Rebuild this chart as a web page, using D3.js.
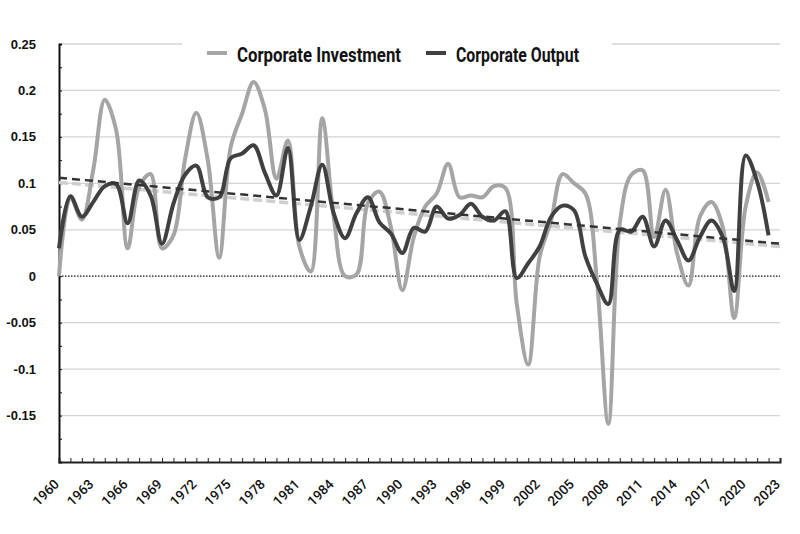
<!DOCTYPE html>
<html>
<head>
<meta charset="utf-8">
<script src="https://cdn.jsdelivr.net/npm/d3@7"></script>
<style>
  html, body { margin: 0; padding: 0; background: #fff; }
  svg { display: block; }
</style>
</head>
<body>
<svg id="chart" width="800" height="534"></svg>
<script>
const years = d3.range(1960, 2023);
const investment = [0.000, 0.085, 0.061, 0.115, 0.190, 0.157, 0.030, 0.096, 0.110, 0.030,
  0.044, 0.125, 0.176, 0.125, 0.020, 0.139, 0.175, 0.209, 0.179, 0.105,
  0.146, 0.032, 0.005, 0.170, 0.064, 0.000, 0.002, 0.079, 0.091, 0.053,
  -0.015, 0.042, 0.075, 0.089, 0.121, 0.085, 0.087, 0.085, 0.097, 0.095,
  -0.030, -0.095, 0.021, 0.060, 0.110, 0.100, 0.089, -0.004, -0.159, 0.057,
  0.109, 0.114, 0.042, 0.093, 0.025, -0.010, 0.064, 0.080, 0.053, -0.045,
  0.075, 0.112, 0.080];
const output = [0.030, 0.086, 0.064, 0.080, 0.097, 0.099, 0.057, 0.103, 0.087, 0.035,
  0.078, 0.109, 0.119, 0.085, 0.085, 0.127, 0.132, 0.141, 0.111, 0.087,
  0.138, 0.039, 0.075, 0.120, 0.068, 0.041, 0.068, 0.085, 0.058, 0.046,
  0.025, 0.052, 0.048, 0.075, 0.062, 0.066, 0.078, 0.064, 0.060, 0.070,
  -0.002, 0.014, 0.032, 0.064, 0.076, 0.071, 0.021, -0.008, -0.030, 0.050,
  0.048, 0.064, 0.032, 0.060, 0.039, 0.017, 0.042, 0.060, 0.042, -0.016,
  0.130, 0.102, 0.044];
const trendYears = [1960, 2023];
const investmentTrend = [0.101, 0.032];
const outputTrend = [0.106, 0.035];
const yTicks = [0.25, 0.2, 0.15, 0.1, 0.05, 0, -0.05, -0.1, -0.15];
const yTickLabels = ["0.25", "0.2", "0.15", "0.1", "0.05", "0", "-0.05", "-0.1", "-0.15"];
const xLabelYears = d3.range(1960, 2024, 3);
const seriesNames = ["Corporate Investment", "Corporate Output"];
const colors = ["#a5a5a5", "#404040"];

const svg = d3.select("#chart");
const x = d3.scaleLinear().domain([1960, 2023]).range([59, 780]);
const y = d3.scaleLinear().domain([-0.2, 0.25]).range([462, 44]);

// gridlines
svg.append("g").selectAll("line")
  .data(yTicks.filter(d => d !== 0))
  .join("line")
  .attr("x1", x(1960)).attr("x2", x(2023))
  .attr("y1", d => y(d)).attr("y2", d => y(d))
  .attr("stroke", "#d4d4d4").attr("stroke-width", 1.3);

// zero dotted line
svg.append("line")
  .attr("x1", x(1960)).attr("x2", x(2023))
  .attr("y1", y(0)).attr("y2", y(0))
  .attr("stroke", "#111").attr("stroke-width", 1.2)
  .attr("stroke-dasharray", "1.5,1.5");

// y axis
const yAxis = d3.axisRight(y)
  .tickValues(d3.range(-0.2, 0.2501, 0.025))
  .tickSize(3).tickFormat("");
const ya = svg.append("g").attr("transform", `translate(${x(1960)},0)`).call(yAxis);
ya.select(".domain").attr("stroke", "#111").attr("stroke-width", 2);
ya.selectAll(".tick line").attr("stroke", "#111").attr("stroke-width", 1);

svg.append("g").selectAll("text")
  .data(yTicks)
  .join("text")
  .attr("x", 36).attr("y", d => y(d))
  .attr("dy", "0.35em")
  .attr("text-anchor", "end")
  .attr("font-family", "'Liberation Sans', Arial, sans-serif")
  .attr("font-weight", "bold")
  .attr("font-size", 13)
  .attr("fill", "#111")
  .text((d, i) => yTickLabels[i]);

// x axis
const xAxis = d3.axisTop(x).tickValues(d3.range(1960, 2024, 1)).tickSize(4).tickFormat("");
const xa = svg.append("g").attr("transform", `translate(0,${y(-0.2)})`).call(xAxis);
xa.select(".domain").attr("stroke", "#222").attr("stroke-width", 2);
xa.selectAll(".tick line").attr("stroke", "#222").attr("stroke-width", 1);

svg.append("g").selectAll("text")
  .data(xLabelYears)
  .join("text")
  .attr("transform", d => `translate(${x(d) + 1},${y(-0.2) + 23}) rotate(-45)`)
  .attr("text-anchor", "end")
  .attr("font-family", "Roboto, 'Open Sans', sans-serif")
  .attr("font-size", 13.5)
  .attr("font-weight", 500)
  .attr("fill", "#111")
  .text(d => d);

// trend lines
const tline = d3.line().x(d => x(d[0])).y(d => y(d[1]));
svg.append("path")
  .datum(trendYears.map((t, i) => [t, investmentTrend[i]]))
  .attr("d", tline).attr("fill", "none")
  .attr("stroke", "#cfcfcf").attr("stroke-width", 3.5)
  .attr("stroke-dasharray", "9,4");

const line = d3.line().x(d => x(d[0])).y(d => y(d[1])).curve(d3.curveCatmullRom.alpha(0.5));
svg.append("path")
  .datum(years.map((t, i) => [t, investment[i]]))
  .attr("d", line).attr("fill", "none")
  .attr("stroke", colors[0]).attr("stroke-width", 4)
  .attr("stroke-linejoin", "round");
svg.append("path")
  .datum(years.map((t, i) => [t, output[i]]))
  .attr("d", line).attr("fill", "none")
  .attr("stroke", colors[1]).attr("stroke-width", 4)
  .attr("stroke-linejoin", "round");

svg.append("path")
  .datum(trendYears.map((t, i) => [t, outputTrend[i]]))
  .attr("d", tline).attr("fill", "none")
  .attr("stroke", "#333").attr("stroke-width", 2.5)
  .attr("stroke-dasharray", "8,5");

// legend
svg.append("rect").attr("x", 182).attr("y", 36).attr("width", 430).attr("height", 34).attr("fill", "#fff");
const legendX = [207, 426];
const legendTextW = [164, 123];
seriesNames.forEach((name, i) => {
  svg.append("line")
    .attr("x1", legendX[i]).attr("x2", legendX[i] + 20)
    .attr("y1", 53).attr("y2", 53)
    .attr("stroke", colors[i]).attr("stroke-width", 4);
  svg.append("text")
    .attr("x", legendX[i] + 30).attr("y", 62)
    .attr("font-family", "Roboto, 'Open Sans', sans-serif")
    .attr("font-size", 20).attr("font-weight", "bold").attr("fill", "#111")
    .attr("textLength", legendTextW[i]).attr("lengthAdjust", "spacingAndGlyphs")
    .text(name);
});
</script>
</body>
</html>
